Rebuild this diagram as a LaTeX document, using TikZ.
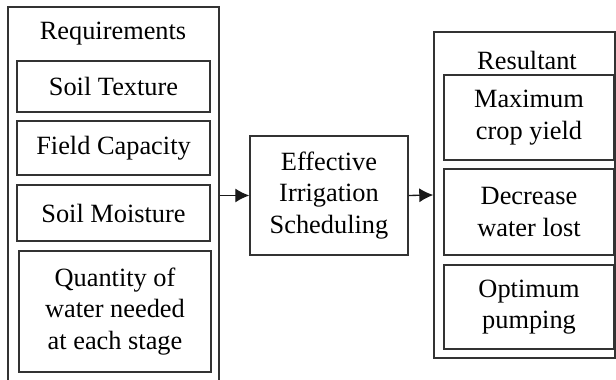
\documentclass[tikz,border=0pt]{standalone}
\usepackage{fontspec}
\setmainfont{Liberation Serif}
\usetikzlibrary{arrows.meta}

\begin{document}
\begin{tikzpicture}[>={Latex[length=8pt,width=8pt]}, line width=0.75pt,
  font=\fontsize{15}{18}\selectfont,
  panel/.style={draw=black!80, inner sep=0pt},
  itembox/.style={draw=black!80, align=center, inner sep=0pt}]

\useasboundingbox (0,0) rectangle (12.32,7.6);

%% ===================== Left panel: requirements =====================
% outer frame runs past the bottom edge of the page
\node[panel, minimum width=4.22cm, minimum height=7.76cm] (req) at (2.27,3.58) {};
\node (reqtitle) at (2.26,6.92) {Requirements};

\node[itembox, minimum width=3.86cm, minimum height=1.02cm] (texture)  at (2.27,5.87) {Soil Texture};
\node[itembox, minimum width=3.86cm, minimum height=1.08cm] (capacity) at (2.27,4.64) {Field Capacity};
\node[itembox, minimum width=3.86cm, minimum height=1.12cm] (moisture) at (2.27,3.34) {Soil Moisture};
\node[itembox, minimum width=3.84cm, minimum height=2.42cm] (quantity) at (2.30,1.37)
  {Quantity of\\water needed\\at each stage};

%% ===================== Middle: scheduling =====================
\node[itembox, minimum width=3.16cm, minimum height=2.38cm] (sched) at (6.58,3.69)
  {Effective\\Irrigation\\Scheduling};

%% ===================== Right panel: resultant =====================
\node[panel, minimum width=3.62cm, minimum height=6.52cm] (res) at (10.49,3.70) {};
\node (restitle) at (10.54,6.40) {Resultant};

\node[itembox, minimum width=3.40cm, minimum height=1.70cm] (yield)   at (10.58,5.25) {Maximum\\crop yield};
\node[itembox, minimum width=3.40cm, minimum height=1.72cm] (waterlost) at (10.58,3.36) {Decrease\\water lost};
\node[itembox, minimum width=3.40cm, minimum height=1.68cm] (pumping) at (10.58,1.46) {Optimum\\pumping};

% connectors
\draw[->, black!90] (req.east |- sched.west) -- (sched.west);
\draw[->, black!90] (sched.east) -- (res.west);

\end{tikzpicture}
\end{document}
